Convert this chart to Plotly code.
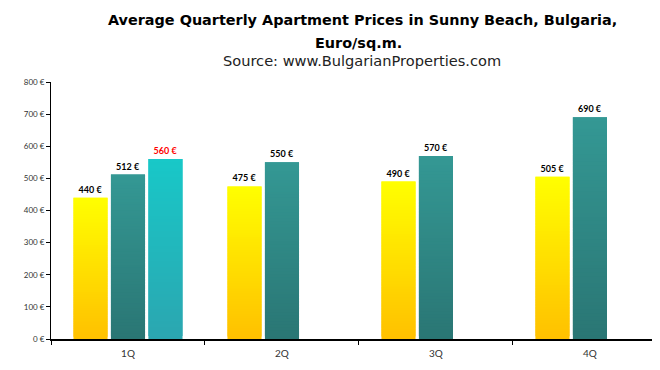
import plotly.graph_objects as go

quarters = ["1Q", "2Q", "3Q", "4Q"]
series_a = [440, 475, 490, 505]
series_b = [512, 550, 570, 690]
series_c = [560, None, None, None]
tick_vals = [0, 100, 200, 300, 400, 500, 600, 700, 800]
tick_text = [f"{v} €" for v in tick_vals]

FONT = "Lato"
TFONT = "DejaVu Sans"
N = 60  # gradient segments per bar

series = [
    (series_a, (255, 255, 0), (255, 192, 0), "a", "black"),
    (series_b, (52, 152, 148), (42, 118, 116), "b", "black"),
    (series_c, (24, 200, 200), (43, 166, 176), "c", "red"),
]

fig = go.Figure()

def lerp(c1, c2, t):
    return "rgb(%d,%d,%d)" % tuple(round(a + (b - a) * t) for a, b in zip(c1, c2))

for vals, top, bottom, grp, lblcol in series:
    for i in range(N):
        base = [None if v is None else v * i / N for v in vals]
        seg = [None if v is None else min(v * (i + 2) / N, v) - v * i / N for v in vals]
        fig.add_trace(go.Bar(
            x=quarters, y=seg, base=base, offsetgroup=grp,
            marker=dict(color=lerp(bottom, top, (i + 0.5) / N), line=dict(width=0)),
            hoverinfo="skip", showlegend=False,
        ))
    fig.add_trace(go.Bar(
        x=quarters, y=vals, offsetgroup=grp,
        marker=dict(color="rgba(0,0,0,0)", line=dict(width=0)),
        text=[None if v is None else f"{v} €" for v in vals],
        textposition="outside", cliponaxis=False,
        textfont=dict(family=FONT, size=9, color=lblcol, weight="bold"),
        showlegend=False,
    ))

# page body has an 8px margin, so the figure is 8px smaller on each axis
fig.update_layout(
    width=652, height=362,
    margin=dict(l=43, r=0, t=74, b=31),
    paper_bgcolor="white", plot_bgcolor="white",
    barmode="group", bargap=0.27, bargroupgap=0.09,
    font=dict(family=FONT, color="#222"),
    xaxis=dict(
        range=[-0.5, 3.455], showgrid=False,
        showline=True, linecolor="black", linewidth=2,
        ticks="outside", tickson="boundaries", ticklen=4, tickcolor="black", tickwidth=1,
        tickfont=dict(family=FONT, size=10, color="#333"),
        ticklabelstandoff=4,
    ),
    yaxis=dict(
        range=[0, 800], tickvals=tick_vals, ticktext=tick_text,
        showgrid=False, zeroline=False,
        showline=True, linecolor="black", linewidth=1,
        ticks="outside", ticklen=4, tickcolor="black",
        tickfont=dict(family=FONT, size=8, color="#333"),
    ),
    annotations=[
        dict(text="<b>Average Quarterly Apartment Prices in Sunny Beach, Bulgaria,</b>",
             x=0.512, y=1.242, xref="paper", yref="paper", showarrow=False,
             xanchor="center", yanchor="middle",
             font=dict(family=TFONT, size=14.4, color="black")),
        dict(text="<b>Euro/sq.m.</b>",
             x=0.505, y=1.152, xref="paper", yref="paper", showarrow=False,
             xanchor="center", yanchor="middle",
             font=dict(family=TFONT, size=14.4, color="black")),
        dict(text="Source: www.BulgarianProperties.com",
             x=0.51, y=1.082, xref="paper", yref="paper", showarrow=False,
             xanchor="center", yanchor="middle",
             font=dict(family=TFONT, size=14.6, color="#222")),
    ],
)

fig.write_html("out.html")
